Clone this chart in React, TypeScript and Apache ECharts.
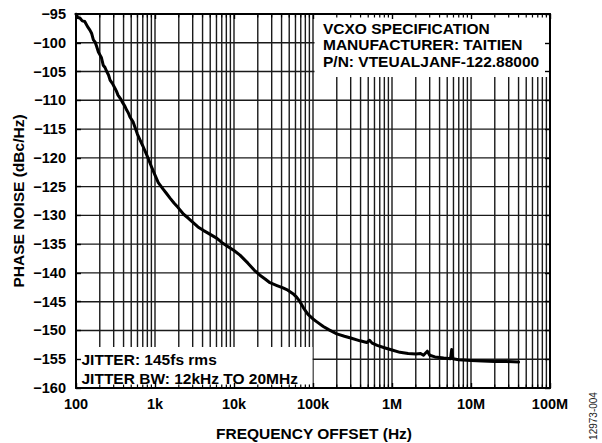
import React, { useEffect, useRef } from "react";
import * as echarts from "echarts";

const xTickLabels = ["100", "1k", "10k", "100k", "1M", "10M", "100M"];
const xDecades = [100, 1000, 10000, 100000, 1000000, 10000000, 100000000];
const minorMultipliers = [2, 3, 4, 5, 6, 7, 8, 9];
const yTicks = [-160, -155, -150, -145, -140, -135, -130, -125, -120, -115, -110, -105, -100, -95];

const freqHz = [
  100, 105, 112, 120, 129, 140, 150, 158, 166, 175, 183, 192, 201, 210, 221, 233, 245, 258, 270, 290,
  311, 325, 340, 365, 393, 415, 438, 460, 482, 530, 600, 700, 815, 900, 1000, 1100, 1200, 1260, 1400,
  1550, 1750, 1950, 2300, 2650, 3020, 3500, 4080, 5000, 6090, 7000, 8150, 10000, 11900, 15000, 18000,
  21300, 25000, 28500, 35000, 41700, 48000, 55800, 62000, 68400, 76000, 86500, 100000, 112000, 135000,
  160000, 200000, 250000, 300000, 394000, 480000, 520000, 560000, 650000, 800000, 1000000, 1260000,
  1600000, 2000000, 2300000, 2500000, 2800000, 3000000, 3500000, 4500000, 5500000, 5700000, 5900000,
  7000000, 10000000, 14000000, 20000000, 28000000, 40000000,
];
const phaseNoise = [
  -95.0, -95.6, -95.7, -96.2, -96.3, -97.2, -97.8, -98.4, -99.5, -99.9, -100.7, -101.6, -102.1,
  -102.6, -103.9, -104.3, -105.0, -105.6, -106.5, -107.1, -107.9, -108.4, -109.1, -109.7, -110.5,
  -111.0, -111.7, -112.2, -112.9, -113.8, -115.9, -117.9, -120.0, -121.5, -123.0, -124.3, -125.0,
  -125.4, -126.2, -127.0, -127.9, -128.6, -129.8, -130.5, -131.2, -132.0, -132.6, -133.3, -134.0,
  -134.7, -135.3, -136.1, -136.9, -138.3, -139.5, -140.4, -141.1, -141.7, -142.2, -142.6, -143.0,
  -143.6, -144.2, -145.0, -146.1, -147.2, -148.0, -148.5, -149.3, -149.9, -150.6, -151.0, -151.3,
  -151.8, -152.1, -151.7, -152.2, -152.6, -153.0, -153.4, -153.8, -154.0, -154.1, -154.0, -154.3,
  -153.6, -154.3, -154.6, -154.8, -154.9, -153.3, -154.9, -155.1, -155.2, -155.3, -155.4, -155.4,
  -155.5,
];

const boxLinesTop = ["VCXO SPECIFICATION", "MANUFACTURER: TAITIEN", "P/N: VTEUALJANF-122.88000"];
const boxLinesBottom = ["JITTER: 145fs rms", "JITTER BW: 12kHz TO 20MHz"];
const xTitle = "FREQUENCY OFFSET (Hz)";
const yTitle = "PHASE NOISE (dBc/Hz)";
const figureId = "12973-004";

const FONT = "'Liberation Sans', Arial, Helvetica, sans-serif";
const GRID = { left: 76, top: 14, right: 52, bottom: 55 };
const X_MIN = 100;
const X_MAX = 100000000;
const Y_MIN = -160;
const Y_MAX = -95;

export default function App() {
  const ref = useRef<HTMLDivElement>(null);

  useEffect(() => {
    document.body.style.margin = "0";
    if (!ref.current) return;
    const chart = echarts.init(ref.current, undefined, { renderer: "svg" });

    const minorX: number[] = [];
    xDecades.slice(0, -1).forEach((d) => minorMultipliers.forEach((m) => minorX.push(d * m)));
    const allX = [...xDecades, ...minorX];

    const gridStroke = "#1a1a1a";
    const tickLabelStyle = {
      fontFamily: FONT,
      fontWeight: "bold",
      fontSize: 14.5,
      color: "#000",
    };

    const option: any = {
      animation: false,
      backgroundColor: "#fff",
      grid: { ...GRID, containLabel: false },
      xAxis: [
        {
          type: "log",
          logBase: 10,
          min: X_MIN,
          max: X_MAX,
          z: 10,
          axisLine: { show: true, onZero: false, lineStyle: { color: "#000", width: 2 } },
          axisTick: { show: true, inside: true, length: 5, lineStyle: { color: "#000", width: 1.4 } },
          splitLine: { show: false },
          axisLabel: {
            show: true,
            margin: 8,
            ...tickLabelStyle,
            formatter: (v: number) => xTickLabels[Math.round(Math.log10(v)) - 2] ?? "",
          },
        },
        {
          type: "log",
          logBase: 10,
          min: X_MIN,
          max: X_MAX,
          position: "top",
          z: 10,
          axisLine: { show: true, onZero: false, lineStyle: { color: "#000", width: 2 } },
          axisTick: { show: true, inside: true, length: 5, lineStyle: { color: "#000", width: 1.4 } },
          splitLine: { show: false },
          axisLabel: { show: false },
        },
      ],
      yAxis: [
        {
          type: "value",
          min: Y_MIN,
          max: Y_MAX,
          interval: 5,
          z: 10,
          axisLine: { show: true, onZero: false, lineStyle: { color: "#000", width: 2 } },
          axisTick: { show: true, inside: true, length: 5, lineStyle: { color: "#000", width: 1.4 } },
          splitLine: { show: false },
          axisLabel: {
            margin: 10,
            ...tickLabelStyle,
            formatter: (v: number) => (v < 0 ? "\u2212" + Math.abs(v) : String(v)),
          },
        },
        {
          type: "value",
          min: Y_MIN,
          max: Y_MAX,
          interval: 5,
          position: "right",
          z: 10,
          axisLine: { show: true, onZero: false, lineStyle: { color: "#000", width: 2 } },
          axisTick: { show: true, inside: true, length: 5, lineStyle: { color: "#000", width: 1.4 } },
          splitLine: { show: false },
          axisLabel: { show: false },
        },
      ],
      series: [
        {
          type: "custom",
          coordinateSystem: "cartesian2d",
          z: 1,
          silent: true,
          clip: false,
          data: allX.map((v) => [v, Y_MIN]),
          renderItem: (_p: any, api: any) => {
            const v = api.value(0);
            const a = api.coord([v, Y_MAX]);
            const b = api.coord([v, Y_MIN]);
            return {
              type: "line",
              shape: { x1: a[0], y1: a[1], x2: b[0], y2: b[1] },
              style: { stroke: gridStroke, lineWidth: 1.4 },
            };
          },
        },
        {
          type: "custom",
          coordinateSystem: "cartesian2d",
          z: 1,
          silent: true,
          clip: false,
          data: yTicks.map((y) => [X_MIN, y]),
          renderItem: (_p: any, api: any) => {
            const y = api.value(1);
            const a = api.coord([X_MIN, y]);
            const b = api.coord([X_MAX, y]);
            return {
              type: "line",
              shape: { x1: a[0], y1: a[1], x2: b[0], y2: b[1] },
              style: { stroke: gridStroke, lineWidth: 1.4 },
            };
          },
        },
        {
          type: "line",
          z: 6,
          silent: true,
          showSymbol: false,
          symbol: "none",
          data: freqHz.map((f, i) => [f, phaseNoise[i]]),
          lineStyle: { color: "#000", width: 3, join: "round", cap: "round" },
        },
        {
          type: "custom",
          coordinateSystem: "cartesian2d",
          z: 9,
          silent: true,
          clip: false,
          data: minorX.map((v) => [v, Y_MIN]),
          renderItem: (_p: any, api: any) => {
            const v = api.value(0);
            const a = api.coord([v, Y_MAX]);
            const b = api.coord([v, Y_MIN]);
            return {
              type: "group",
              children: [
                {
                  type: "line",
                  shape: { x1: b[0], y1: b[1], x2: b[0], y2: b[1] - 3.5 },
                  style: { stroke: "#000", lineWidth: 1.2 },
                },
                {
                  type: "line",
                  shape: { x1: a[0], y1: a[1], x2: a[0], y2: a[1] + 3.5 },
                  style: { stroke: "#000", lineWidth: 1.2 },
                },
              ],
            };
          },
        },
      ],
      graphic: [
        { type: "rect", z: 5, silent: true, shape: { x: 314.5, y: 15, width: 234.5, height: 62 }, style: { fill: "#fff" } },
        { type: "rect", z: 5, silent: true, shape: { x: 77, y: 347, width: 235.5, height: 40 }, style: { fill: "#fff" } },
        ...boxLinesTop.map((t, i) => ({
          type: "text",
          z: 7,
          silent: true,
          x: 323,
          y: [28, 44.8, 61][i],
          style: { text: t, fill: "#000", font: `bold 15.5px ${FONT}`, textAlign: "left", textVerticalAlign: "middle" },
        })),
        ...boxLinesBottom.map((t, i) => ({
          type: "text",
          z: 7,
          silent: true,
          x: 81.5,
          y: [359, 378][i],
          style: { text: t, fill: "#000", font: `bold 15.5px ${FONT}`, textAlign: "left", textVerticalAlign: "middle" },
        })),
        {
          type: "text",
          silent: true,
          x: 314,
          y: 433,
          style: { text: xTitle, fill: "#000", font: `bold 15.5px ${FONT}`, textAlign: "center", textVerticalAlign: "middle" },
        },
        {
          type: "text",
          silent: true,
          x: 18.5,
          y: 201,
          rotation: Math.PI / 2,
          style: { text: yTitle, fill: "#000", font: `bold 15.5px ${FONT}`, textAlign: "center", textVerticalAlign: "middle" },
        },
        {
          type: "text",
          silent: true,
          x: 593,
          y: 416,
          rotation: Math.PI / 2,
          style: { text: figureId, fill: "#222", font: `10px ${FONT}`, textAlign: "center", textVerticalAlign: "middle" },
        },
      ],
    };

    chart.setOption(option);
    return () => chart.dispose();
  }, []);

  return <div ref={ref} style={{ width: 602, height: 443 }} />;
}
